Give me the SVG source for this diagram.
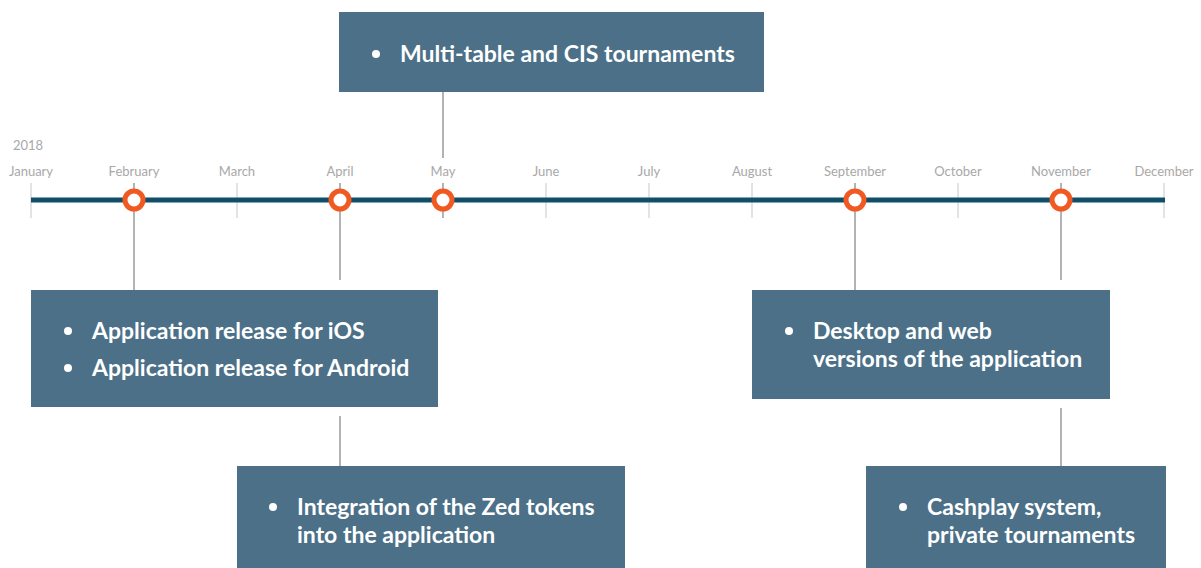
<svg xmlns="http://www.w3.org/2000/svg" width="1201" height="568" viewBox="0 0 1201 568">
<style>
.box{fill:#4b7088}
.t{font-family:Lato,"Liberation Sans",sans-serif;font-weight:bold;font-size:23px;fill:#ffffff}
.b{fill:#ffffff}
.m{font-family:Lato,"Liberation Sans",sans-serif;font-size:13px;fill:#a8a8a8;text-anchor:middle}
.tick{stroke:#d0d0d0;stroke-width:1.2}
.c{stroke:#9a9a9a;stroke-width:1.5;fill:none}
.dot{fill:#ffffff;stroke:#f05a22;stroke-width:5}
</style>
<rect width="1201" height="568" fill="#ffffff"/>
<g id="axis">
<text x="13" y="150" font-family="Lato,'Liberation Sans',sans-serif" font-size="13" fill="#a8a8a8">2018</text>
<g class="m">
<text x="31" y="176">January</text>
<text x="134" y="176">February</text>
<text x="237" y="176">March</text>
<text x="340" y="176">April</text>
<text x="443" y="176">May</text>
<text x="546" y="176">June</text>
<text x="649" y="176">July</text>
<text x="752" y="176">August</text>
<text x="855" y="176">September</text>
<text x="958" y="176">October</text>
<text x="1061" y="176">November</text>
<text x="1164" y="176">December</text>
</g>
<g class="tick">
<line x1="31" y1="183" x2="31" y2="218"/>
<line x1="237" y1="183" x2="237" y2="218"/>
<line x1="546" y1="183" x2="546" y2="218"/>
<line x1="649" y1="183" x2="649" y2="218"/>
<line x1="752" y1="183" x2="752" y2="218"/>
<line x1="958" y1="183" x2="958" y2="218"/>
<line x1="1164" y1="183" x2="1164" y2="218"/>
</g>
<line x1="31" y1="200" x2="1165" y2="200" stroke="#0f5068" stroke-width="5"/>
</g>
<g id="connectors" class="c">
<line x1="134" y1="183" x2="134" y2="290"/>
<line x1="340" y1="183" x2="340" y2="280"/>
<line x1="443" y1="92" x2="443" y2="158"/>
<line x1="443" y1="183" x2="443" y2="218"/>
<line x1="855" y1="183" x2="855" y2="290"/>
<line x1="1061" y1="183" x2="1061" y2="280"/>
<line x1="340" y1="416" x2="340" y2="466"/>
<line x1="1061" y1="408" x2="1061" y2="466"/>
</g>
<g id="markers">
<circle class="dot" cx="134" cy="200" r="9"/>
<circle class="dot" cx="340" cy="200" r="9"/>
<circle class="dot" cx="443" cy="200" r="9"/>
<circle class="dot" cx="855" cy="200" r="9"/>
<circle class="dot" cx="1061" cy="200" r="9"/>
</g>
<g id="may">
<rect class="box" x="339" y="12" width="425" height="80"/>
<circle class="b" cx="376" cy="54" r="4"/>
<text class="t" x="400" y="62">Multi-table and CIS tournaments</text>
</g>
<g id="feb">
<rect class="box" x="31" y="290" width="407" height="117"/>
<circle class="b" cx="68" cy="331" r="4"/>
<text class="t" x="92" y="339">Application release for iOS</text>
<circle class="b" cx="68" cy="368" r="4"/>
<text class="t" x="92" y="376">Application release for Android</text>
</g>
<g id="sep">
<rect class="box" x="752" y="290" width="358" height="109"/>
<circle class="b" cx="789" cy="331" r="4"/>
<text class="t" x="813" y="339">Desktop and web</text>
<text class="t" x="813" y="367">versions of the application</text>
</g>
<g id="apr">
<rect class="box" x="237" y="466" width="388" height="102"/>
<circle class="b" cx="273" cy="507" r="4"/>
<text class="t" x="297" y="515">Integration of the Zed tokens</text>
<text class="t" x="297" y="543">into the application</text>
</g>
<g id="nov">
<rect class="box" x="866" y="466" width="300" height="102"/>
<circle class="b" cx="903" cy="507" r="4"/>
<text class="t" x="927" y="515">Cashplay system,</text>
<text class="t" x="927" y="543">private tournaments</text>
</g>
</svg>
